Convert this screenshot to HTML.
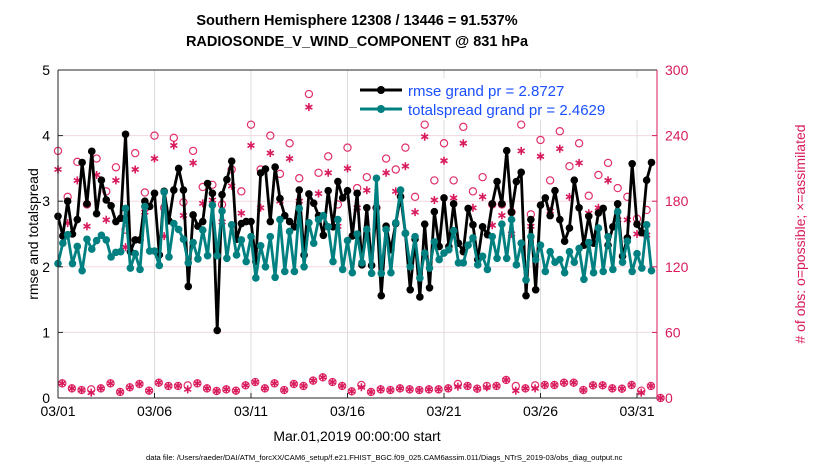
<!DOCTYPE html>
<html><head><meta charset="utf-8"><style>
body{margin:0;background:#fff;width:830px;height:470px;overflow:hidden;font-family:"Liberation Sans",sans-serif}
svg{display:block}
</style></head><body>
<svg id="chart" width="830" height="470" xmlns="http://www.w3.org/2000/svg" font-family="Liberation Sans, sans-serif">
<text x="357" y="25" font-size="14.5" font-weight="bold" text-anchor="middle">Southern Hemisphere 12308 / 13446 = 91.537%</text>
<text x="357" y="46" font-size="14.5" font-weight="bold" text-anchor="middle">RADIOSONDE_V_WIND_COMPONENT @ 831 hPa</text>
<g id="grid"></g>
<g id="marks"></g>
<g id="axes"></g>
<text transform="translate(38,234) rotate(-90)" font-size="14" text-anchor="middle">rmse and totalspread</text>
<text transform="translate(805,234) rotate(-90)" font-size="14" fill="#d81b5e" text-anchor="middle"># of obs: o=possible; ×=assimilated</text>
<text x="357" y="441" font-size="14" text-anchor="middle">Mar.01,2019 00:00:00 start</text>
<text x="146" y="460" font-size="7.6">data file: /Users/raeder/DAI/ATM_forcXX/CAM6_setup/f.e21.FHIST_BGC.f09_025.CAM6assim.011/Diags_NTrS_2019-03/obs_diag_output.nc</text>
<g id="legend">
<rect x="350" y="78" width="290" height="42" fill="#fff"/>
<g><line x1="360" y1="90" x2="402" y2="90" stroke="#000" stroke-width="3"/><circle cx="381" cy="90" r="4" fill="#000"/><text x="408" y="96" font-size="15" fill="#1a4fff">rmse grand pr = 2.8727</text></g>
<g><line x1="360" y1="109" x2="402" y2="109" stroke="#008080" stroke-width="3"/><circle cx="381" cy="109" r="4" fill="#008080"/><text x="408" y="115" font-size="15" fill="#1a4fff">totalspread grand pr = 2.4629</text></g>
</g>
</svg>
<script>
const rmse=[2.77,2.47,3.0,2.5,2.72,3.59,2.96,3.76,2.81,3.32,3.02,2.93,2.69,2.74,4.02,2.23,2.41,2.41,3.0,2.92,3.12,2.18,3.15,2.7,3.17,3.5,3.17,1.7,2.79,2.62,2.69,3.27,3.12,1.03,3.1,3.33,3.61,2.42,2.66,2.69,2.69,2.08,3.43,3.49,2.69,3.52,3.04,2.78,2.69,2.61,3.17,2.18,3.11,2.97,2.78,2.48,3.16,2.61,3.3,3.05,3.16,2.47,3.12,2.03,2.9,2.02,2.9,1.56,2.62,2.26,2.66,3.07,2.51,1.65,2.42,1.54,2.65,1.68,2.84,2.31,3.05,2.31,2.96,2.36,2.23,2.89,2.64,2.11,2.61,2.49,2.96,3.3,2.96,3.77,2.83,3.3,3.44,1.56,2.72,1.65,2.94,3.05,2.78,3.16,2.72,2.39,2.59,3.32,2.9,2.33,2.77,2.36,2.82,2.89,2.33,2.61,2.96,2.16,2.44,3.57,2.65,2.52,3.32,3.59];
const spread=[2.05,2.36,2.49,2.05,2.31,1.94,2.42,2.27,2.4,2.48,2.41,2.15,2.22,2.23,2.89,1.98,2.2,1.96,2.92,2.24,2.24,2.02,3.14,2.15,2.66,2.57,2.42,2.06,2.37,2.12,2.56,2.17,2.94,2.17,2.85,2.13,2.64,2.18,2.41,2.08,2.46,1.83,2.32,2.0,2.46,1.84,2.72,1.93,2.54,1.93,2.89,2.0,2.67,2.36,2.72,2.78,2.61,2.08,2.72,1.96,2.4,1.91,2.5,2.06,2.57,1.9,3.35,1.9,2.57,1.91,2.67,3.17,2.51,2.0,2.46,1.83,2.21,1.98,2.38,2.11,2.21,2.26,2.55,2.06,2.06,2.33,2.44,2.03,2.16,1.96,2.46,2.13,2.65,2.13,2.72,2.03,2.36,1.8,2.46,2.11,2.33,1.93,2.23,2.07,2.11,1.91,2.23,2.07,2.28,1.81,2.37,1.91,2.59,1.93,2.46,1.96,2.84,2.07,2.39,1.93,2.2,1.98,2.64,1.94];
const possible=[226,184,216,177,219,189,211,154,224,188,240,174,238,179,226,193,195,177,209,189,250,209,240,205,233,201,278,206,221,177,229,192,202,174,219,209,229,184,250,199,233,199,248,189,202,177,177,170,250,168,236,199,244,212,233,185,204,215,192,184,164,172];
const assimilated=[209,160,199,157,204,163,199,138,209,170,219,148,231,167,215,178,181,161,194,169,231,174,224,180,219,180,266,187,206,157,210,174,190,159,206,189,212,170,239,181,217,183,233,174,184,158,167,150,226,157,221,171,228,184,215,169,174,199,163,163,150,149];
const lowPossible=[13.4,8.8,7.3,7.9,8.8,13.4,5.5,9.8,12.8,6.7,14.0,11.0,11.0,11.6,13.4,8.8,6.4,7.9,6.7,11.6,14.6,8.8,13.4,7.3,12.8,11.0,15.9,18.9,14.6,11.0,6.1,11.9,5.5,7.9,7.3,8.8,7.9,7.3,7.9,7.9,8.8,12.8,11.0,8.5,11.0,11.0,16.5,11.0,8.8,11.6,11.9,11.9,14.0,14.0,7.3,11.6,11.6,8.8,8.5,11.9,6.7,11.0,0];
const lowAssimilated=[13.4,8.8,7.3,4.9,8.8,13.4,5.5,9.8,12.8,6.7,14.0,11.0,11.0,7.9,13.4,8.8,6.4,7.9,6.7,11.6,14.6,8.8,13.4,7.3,12.8,11.0,15.9,18.9,14.6,11.0,6.1,9.8,5.5,7.9,7.3,8.8,7.9,7.3,7.9,7.9,8.8,10.4,11.0,8.5,9.8,11.0,16.5,6.7,8.8,8.8,11.9,11.9,14.0,14.0,7.3,11.6,11.6,8.8,8.5,11.9,4.9,11.0,0];
const xTickLabels=["03/01","03/06","03/11","03/16","03/21","03/26","03/31"];
const yTicks=[0,1,2,3,4,5];
const y2Ticks=[0,60,120,180,240,300];

const L=58,R=657,T=70,B=398,DAY=19.3;
const X=t=>L+t*DAY;
const Y=v=>B-(v/5)*(B-T);
const Y2=c=>B-(c/300)*(B-T);
const NS="http://www.w3.org/2000/svg";
function mk(tag,attrs,parent){const e=document.createElementNS(NS,tag);for(const k in attrs)e.setAttribute(k,attrs[k]);parent.appendChild(e);return e;}
const grid=document.getElementById('grid'),marks=document.getElementById('marks'),axes=document.getElementById('axes');
mk('rect',{x:L,y:T,width:R-L,height:B-T,fill:'#fff'},grid);
xTickLabels.forEach((lab,i)=>{const x=X(i*5);
 const g=mk('line',{x1:x,y1:T,x2:x,y2:B,stroke:'#dcdcdc','stroke-width':1},grid);
 
 
 mk('line',{x1:x,y1:B,x2:x,y2:B-5,stroke:'#262626'},axes);
 const t=mk('text',{x:x,y:B+18,'font-size':14,'text-anchor':'middle'},axes);t.textContent=lab;
 
 
});
yTicks.forEach(v=>{const y=Y(v);
 if(v>0&&v<5){const g=mk('line',{x1:L,y1:y,x2:R,y2:y,stroke:'#f0d8e0','stroke-width':1},grid);
 
 }
 mk('line',{x1:L,y1:y,x2:L+5,y2:y,stroke:'#262626'},axes);
 const t=mk('text',{x:L-8,y:y+5,'font-size':14,'text-anchor':'end'},axes);t.textContent=v;
 
 
});
y2Ticks.forEach(c=>{const y=Y2(c);
 mk('line',{x1:R,y1:y,x2:R-5,y2:y,stroke:'#d81b5e'},axes);
 const t=mk('text',{x:R+8,y:y+5,'font-size':14,fill:'#d81b5e'},axes);t.textContent=c;
 
 
});
mk('line',{x1:L,y1:T,x2:L,y2:B,stroke:'#262626'},axes);
mk('line',{x1:L,y1:B,x2:R,y2:B,stroke:'#262626'},axes);
mk('line',{x1:L,y1:T,x2:R,y2:T,stroke:'#262626'},axes);
mk('line',{x1:R,y1:T,x2:R,y2:B,stroke:'#d81b5e'},axes);

function star(x,y,parent){const s=4,d=s*0.87,h=s*0.5;
 const g=mk('path',{d:`M${x} ${y-s}V${y+s}M${x-d} ${y-h}L${x+d} ${y+h}M${x-d} ${y+h}L${x+d} ${y-h}`,stroke:'#d81b5e','stroke-width':1.6,fill:'none'},parent);
 
 }
function ring(x,y,parent){const c=mk('circle',{cx:x,cy:y,r:3.6,stroke:'#e0306a','stroke-width':1.2,fill:'none'},parent);
 
 }
possible.forEach((c,k)=>{ring(X(k*0.5),Y2(c),marks);});
assimilated.forEach((c,k)=>{star(X(k*0.5),Y2(c),marks);});
lowPossible.forEach((c,k)=>{ring(X(k*0.5+0.22),Y2(c),marks);});
lowAssimilated.forEach((c,k)=>{star(X(k*0.5+0.22),Y2(c),marks);});
function series(vals,color,name){
 const p=mk('polyline',{points:vals.map((v,i)=>X(i*0.25)+','+Y(v)).join(' '),fill:'none',stroke:color,'stroke-width':2.8,'stroke-linejoin':'round'},marks);
 
 
 vals.forEach((v,i)=>{const c=mk('circle',{cx:X(i*0.25),cy:Y(v),r:3.8,fill:color},marks);
 
 });
}
series(rmse,'#000','rmse');
series(spread,'#008080','totalspread');
document.getElementById('chart').appendChild(document.getElementById('legend'));
</script>
</body></html>
